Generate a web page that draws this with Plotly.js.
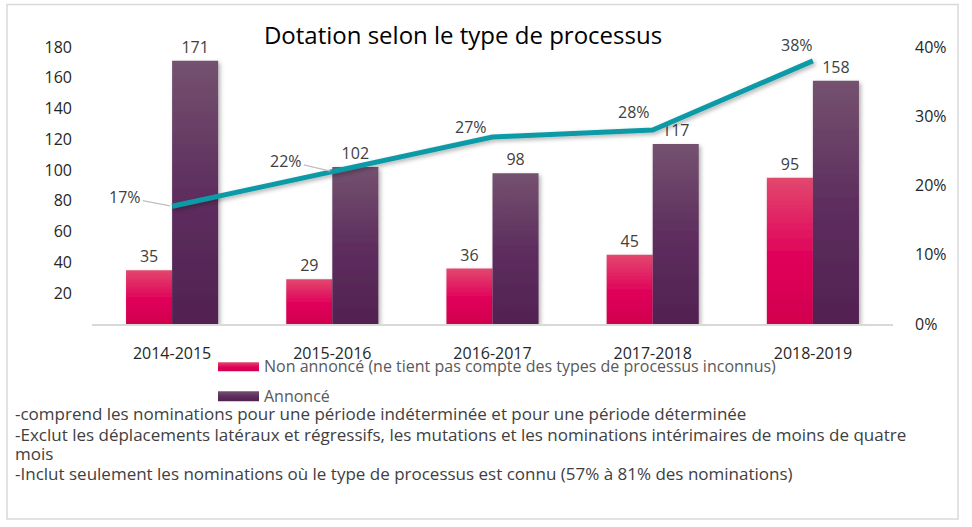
<!DOCTYPE html>
<html>
<head>
<meta charset="utf-8">
<script src="https://cdn.plot.ly/plotly-3.0.1.min.js"></script>
<style>html,body{margin:0;padding:0;background:#fff}#chart{width:972px;height:527px}</style>
</head>
<body>
<div id="chart"></div>
<script>
// ---- data ----
const categories = ['2014-2015', '2015-2016', '2016-2017', '2017-2018', '2018-2019'];
const nonAnnonce = [35, 29, 36, 45, 95];
const annonce = [171, 102, 98, 117, 158];
const pctAnnonce = [0.17, 0.22, 0.27, 0.28, 0.38];
const seriesNames = ['Non annoncé (ne tient pas compte des types de processus inconnus)', 'Annoncé'];
const titleText = 'Dotation selon le type de processus';
const notes = [
  '-comprend les nominations pour une période indéterminée et pour une période déterminée',
  '-Exclut les déplacements latéraux et régressifs, les mutations et les nominations intérimaires de moins de quatre',
  'mois',
  '-Inclut seulement les nominations où le type de processus est connu (57% à 81% des nominations)'
];

// ---- geometry helpers (pixel -> paper) ----
const W = 972, H = 527;
const M = {l: 92, r: 79, t: 46.5, b: 203.25};
const PW = W - M.l - M.r, PH = H - M.t - M.b;
const px = x => (x - M.l) / PW;
const py = y => (H - M.b - y) / PH;

const FONT = '"Open Sans", "Noto Sans", sans-serif';
const txt = '#404040';

// label styling for line data labels (offsets in px)
const lblStyle = [
  {arrow: true, ax: -47, ay: -9},
  {arrow: true, ax: -46, ay: -11},
  {arrow: false, xs: -22, ys: 10},
  {arrow: false, xs: -19, ys: 18},
  {arrow: false, xs: -16, ys: 16}
];

const traces = [
  {type: 'bar', name: seriesNames[0], x: categories, y: nonAnnonce,
   marker: {color: '#E0005A'}, text: nonAnnonce.map(String), textposition: 'outside',
   textfont: {size: 16, color: txt, family: FONT}, cliponaxis: false, showlegend: false},
  {type: 'bar', name: seriesNames[1], x: categories, y: annonce,
   marker: {color: '#5E2E5C'}, text: annonce.map(String), textposition: 'outside',
   textfont: {size: 16, color: txt, family: FONT}, cliponaxis: false, showlegend: false},
  {type: 'scatter', mode: 'lines', x: categories, y: pctAnnonce, yaxis: 'y2',
   line: {color: '#0E9AA7', width: 5}, showlegend: false, hoverinfo: 'skip'}
];

const annotations = [];
pctAnnonce.forEach((v, i) => {
  const s = lblStyle[i];
  const a = {x: categories[i], y: v, xref: 'x', yref: 'y2', text: Math.round(v * 100) + '%',
    font: {size: 16, color: txt, family: FONT}};
  if (s.arrow) {
    Object.assign(a, {showarrow: true, arrowhead: 0, arrowwidth: 1.2, arrowcolor: '#BFBFBF', ax: s.ax, ay: s.ay, standoff: 2});
  } else {
    Object.assign(a, {showarrow: false, xshift: s.xs, yshift: s.ys});
  }
  annotations.push(a);
});
// legend texts
annotations.push({xref: 'paper', yref: 'paper', x: px(262), y: py(366), xanchor: 'left', yanchor: 'middle',
  text: seriesNames[0], showarrow: false, font: {size: 16, color: '#595959', family: FONT}});
annotations.push({xref: 'paper', yref: 'paper', x: px(262), y: py(396), xanchor: 'left', yanchor: 'middle',
  text: seriesNames[1], showarrow: false, font: {size: 16, color: '#595959', family: FONT}});
// notes
const noteY = [413, 434, 453, 473];
notes.forEach((t, i) => annotations.push({xref: 'paper', yref: 'paper', x: px(13), y: py(noteY[i]),
  xanchor: 'left', yanchor: 'middle', text: t, showarrow: false, font: {size: 17, color: txt, family: FONT}}));

const shapes = [
  {type: 'rect', xref: 'paper', yref: 'paper', x0: px(7), x1: px(958), y0: py(519), y1: py(4),
   line: {color: '#D9D9D9', width: 1.5}, fillcolor: 'rgba(0,0,0,0)', layer: 'below'},
  {type: 'rect', xref: 'paper', yref: 'paper', x0: px(218), x1: px(259), y0: py(371), y1: py(362),
   line: {width: 0}, fillcolor: '#E0005A'},
  {type: 'rect', xref: 'paper', yref: 'paper', x0: px(218), x1: px(259), y0: py(401), y1: py(391),
   line: {width: 0}, fillcolor: '#5E2E5C'}
];

const layout = {
  width: W, height: H, margin: M, paper_bgcolor: '#fff', plot_bgcolor: '#fff',
  font: {family: FONT, color: txt, size: 16},
  title: {text: titleText, x: 463 / W, xanchor: 'center', y: 1 - 36 / H, yanchor: 'middle',
          font: {size: 24, color: '#000', family: FONT}},
  barmode: 'group', bargap: 0.425, bargroupgap: 0, showlegend: false,
  xaxis: {type: 'category', showline: true, linecolor: '#D9D9D9', linewidth: 1.5, ticks: '',
          showgrid: false, zeroline: false, tickfont: {size: 16, color: '#262626'}, ticklabelstandoff: 14},
  yaxis: {range: [0, 180], tickvals: [20, 40, 60, 80, 100, 120, 140, 160, 180], showgrid: false,
          zeroline: false, showline: false, ticks: '', tickfont: {size: 16, color: '#262626'}, ticklabelstandoff: 19},
  yaxis2: {range: [0, 0.4], dtick: 0.1, tick0: 0, tickformat: '.0%', overlaying: 'y', side: 'right',
           showgrid: false, zeroline: false, showline: false, ticks: '', tickfont: {size: 16, color: '#262626'},
           ticklabelstandoff: 21},
  annotations: annotations, shapes: shapes
};

Plotly.newPlot('chart', traces, layout, {staticPlot: true}).then(gd => {
  const NS = 'http://www.w3.org/2000/svg';
  const svg = gd.querySelector('.main-svg');
  let defs = svg.querySelector('defs');
  if (!defs) { defs = document.createElementNS(NS, 'defs'); svg.insertBefore(defs, svg.firstChild); }
  function grad(id, stops) {
    const g = document.createElementNS(NS, 'linearGradient');
    g.setAttribute('id', id); g.setAttribute('x1', '0'); g.setAttribute('y1', '0');
    g.setAttribute('x2', '0'); g.setAttribute('y2', '1');
    stops.forEach(([o, c]) => { const s = document.createElementNS(NS, 'stop');
      s.setAttribute('offset', o); s.setAttribute('stop-color', c); g.appendChild(s); });
    defs.appendChild(g);
  }
  grad('gPink', [['0', '#E2486E'], ['0.55', '#E0005A'], ['1', '#D1004E']]);
  grad('gPurp', [['0', '#74526F'], ['0.5', '#5E2E5E'], ['1', '#512251']]);
  const f = document.createElementNS(NS, 'filter');
  f.setAttribute('id', 'shd'); f.setAttribute('x', '-20%'); f.setAttribute('y', '-20%');
  f.setAttribute('width', '140%'); f.setAttribute('height', '140%');
  const ds = document.createElementNS(NS, 'feDropShadow');
  ds.setAttribute('dx', '2'); ds.setAttribute('dy', '2'); ds.setAttribute('stdDeviation', '2');
  ds.setAttribute('flood-color', '#000'); ds.setAttribute('flood-opacity', '0.3');
  f.appendChild(ds); defs.appendChild(f);
  const bt = gd.querySelectorAll('.barlayer .trace');
  const ids = ['gPink', 'gPurp'];
  bt.forEach((t, i) => t.querySelectorAll('path').forEach(p => {
    p.style.fill = 'url(#' + ids[i] + ')'; p.setAttribute('filter', 'url(#shd)');
  }));
  gd.querySelectorAll('.scatterlayer .js-line').forEach(p => p.setAttribute('filter', 'url(#shd)'));
  const sh = gd.querySelectorAll('.shapelayer path');
  if (sh.length >= 3) {
    sh[sh.length - 2].style.fill = 'url(#gPink)';
    sh[sh.length - 1].style.fill = 'url(#gPurp)';
  }
});
</script>
</body>
</html>
